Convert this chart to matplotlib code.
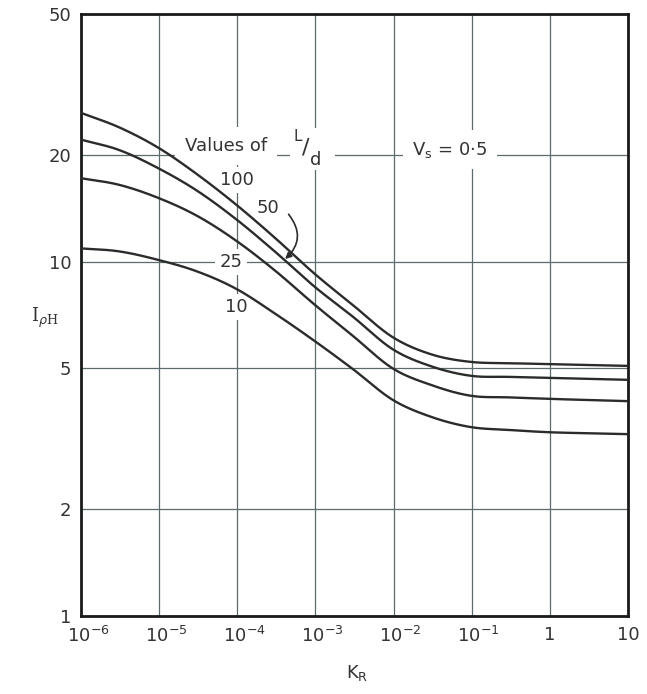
import numpy as np
import matplotlib.pyplot as plt
import matplotlib.transforms as mtransforms
from matplotlib.patches import Rectangle

# values (K_R vs I_pH, V_s = 0.5)
k_r = [1e-6, 3e-6, 1e-5, 3e-5, 1e-4, 3e-4, 1e-3, 3e-3, 1e-2, 3e-2, 1e-1, 3e-1, 1, 3, 10]
i_ld100 = [26.3, 24.0, 20.9, 17.7, 14.4, 11.7, 9.2, 7.55, 6.10, 5.48, 5.21, 5.17, 5.14, 5.11, 5.08]
i_ld50 = [22.1, 20.7, 18.3, 15.9, 13.1, 10.7, 8.46, 7.00, 5.64, 5.07, 4.76, 4.73, 4.70, 4.67, 4.64]
i_ld25 = [17.2, 16.5, 15.1, 13.5, 11.4, 9.46, 7.53, 6.18, 4.98, 4.49, 4.18, 4.14, 4.10, 4.07, 4.04]
i_ld10 = [10.9, 10.7, 10.1, 9.4, 8.35, 7.15, 5.95, 4.98, 4.06, 3.65, 3.41, 3.35, 3.30, 3.28, 3.26]

x_ticks = [1e-6, 1e-5, 1e-4, 1e-3, 1e-2, 1e-1, 1, 10]
x_labels = ['$10^{-6}$', '$10^{-5}$', '$10^{-4}$', '$10^{-3}$', '$10^{-2}$', '$10^{-1}$', '1', '10']
y_ticks = [1, 2, 5, 10, 20, 50]


# smooth curve through the read points (cubic hermite in log-log space)
def smooth(x, y, n=500):
    lx, ly = np.log10(x), np.log10(y)
    m = np.gradient(ly, lx)
    xs = np.linspace(lx[0], lx[-1], n)
    idx = np.clip(np.searchsorted(lx, xs) - 1, 0, len(lx) - 2)
    h = lx[idx + 1] - lx[idx]
    t = (xs - lx[idx]) / h
    ys = ((2*t**3 - 3*t**2 + 1) * ly[idx] + (t**3 - 2*t**2 + t) * h * m[idx]
          + (-2*t**3 + 3*t**2) * ly[idx + 1] + (t**3 - t**2) * h * m[idx + 1])
    return 10**xs, 10**ys


fig = plt.figure(figsize=(6.47, 6.94), dpi=100)
ax = fig.add_axes([81/647, 1 - 616/694, 547/647, 602/694])

for series in [i_ld100, i_ld50, i_ld25, i_ld10]:
    xs, ys = smooth(k_r, series)
    ax.plot(xs, ys, color='#2b2b2b', lw=1.7, zorder=4)

ax.set_xscale('log')
ax.set_yscale('log')
ax.set_xlim(1e-6, 10)
ax.set_ylim(1, 50)
ax.set_xticks(x_ticks)
ax.set_xticklabels(x_labels)
ax.set_yticks(y_ticks)
ax.set_yticklabels([str(v) for v in y_ticks])
ax.minorticks_off()
ax.tick_params(length=0, labelsize=13, colors='#333333', pad=7)
ax.grid(True, color='#5d6b6e', lw=0.9)
for sp in ax.spines.values():
    sp.set_linewidth(2)
    sp.set_color('#1a1a1a')

# nudge the power labels so the "10" sits on the gridline
for lab in ax.get_xticklabels():
    if '^' in lab.get_text():
        lab.set_transform(lab.get_transform() + mtransforms.ScaledTranslation(7/100, 0, fig.dpi_scale_trans))

ax.set_ylabel(r'I$_{\rho\mathregular{H}}$', rotation=0, fontsize=13, color='#333333',
              fontfamily='DejaVu Serif')
ax.yaxis.set_label_coords(-0.066, 0.475)
ax.set_xlabel(r'K$_\mathregular{R}$', fontsize=13, color='#333333')
ax.xaxis.set_label_coords(0.505, -0.078)

tc = '#333333'
box = dict(fc='white', ec='none', pad=3)
ax.text(7.2e-5, 21.2, 'Values of', fontsize=13, color=tc, ha='center', va='center',
        bbox=dict(fc='white', ec='none', pad=7), zorder=3)
# white patch behind L/d breaking the gridlines
ax.add_patch(Rectangle((0.382, 0.741), 0.082, 0.07, transform=ax.transAxes,
                       fc='white', ec='none', zorder=2.5))
ax.text(5.9e-4, 22.6, 'L', fontsize=11, color=tc, ha='center', va='center', zorder=3)
ax.text(7.6e-4, 21.0, '/', fontsize=16, color=tc, ha='center', va='center', zorder=3)
ax.text(1.0e-3, 19.4, 'd', fontsize=13, color=tc, ha='center', va='center', zorder=3)
ax.text(0.0525, 20.7, r'V$_\mathregular{s}$ = 0·5', fontsize=13, color=tc, ha='center', va='center',
        bbox=dict(fc='white', ec='none', pad=7), zorder=3)
ax.text(1.0e-4, 17.0, '100', fontsize=13, color=tc, ha='center', va='center', bbox=box, zorder=3)
ax.text(2.5e-4, 14.2, '50', fontsize=13, color=tc, ha='center', va='center', bbox=box, zorder=3)
ax.text(8.3e-5, 10.0, '25', fontsize=13, color=tc, ha='center', va='center', bbox=box, zorder=3)
ax.text(9.6e-5, 7.45, '10', fontsize=13, color=tc, ha='center', va='center', bbox=box, zorder=3)
ax.annotate('', xy=(3.85e-4, 10.05), xytext=(4.3e-4, 13.8),
            arrowprops=dict(arrowstyle='-|>', color='#2b2b2b', lw=1.2, mutation_scale=9,
                            connectionstyle='arc3,rad=-0.5'), zorder=5)

fig.savefig('out.png', dpi=100, facecolor='white')
